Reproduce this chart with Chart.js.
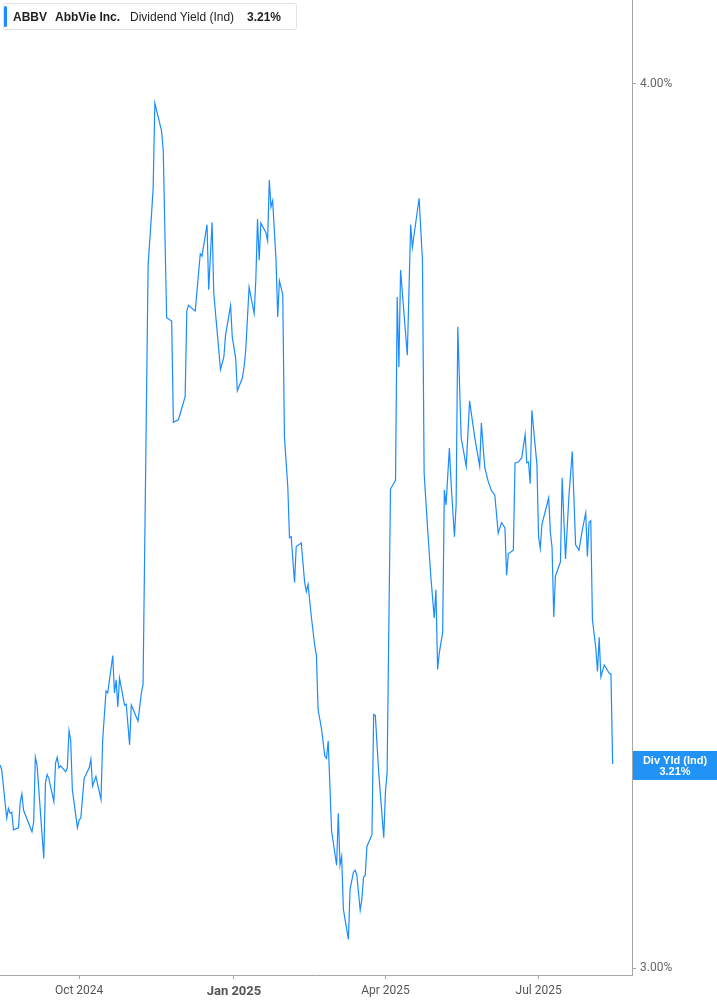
<!DOCTYPE html>
<html>
<head>
<meta charset="utf-8">
<title>ABBV Dividend Yield</title>
<script src="https://cdn.jsdelivr.net/npm/chart.js@4.4.1/dist/chart.umd.min.js"></script>
<style>
  html, body { margin: 0; padding: 0; background: #fff; }
  #wrap { position: relative; width: 717px; height: 1005px; }
  #legend {
    position: absolute; left: 3px; top: 3px; width: 292px; height: 25px;
    border: 1px solid #e2e2e2; border-radius: 3px; background: #fff;
    font-family: "Liberation Sans", Arial, sans-serif; font-size: 12px; color: #1f1f1f;
  }
  #legend .bar { position: absolute; left: 0; top: 2px; bottom: 2px; width: 3px; background: #1a8cff; border-radius: 2px; }
  #legend span { position: absolute; top: 6px; white-space: nowrap; }
  #legend .b { font-weight: bold; }
</style>
</head>
<body>
<div id="wrap">
  <canvas id="chart" width="717" height="1005"></canvas>
  <div id="legend">
    <div class="bar"></div>
    <span class="b" style="left:9px">ABBV</span>
    <span class="b" style="left:51px">AbbVie Inc.</span>
    <span style="left:126px">Dividend Yield (Ind)</span>
    <span class="b" style="left:243px">3.21%</span>
  </div>
</div>
<script>
// daily dividend yield (%)
const dates = [
  "2024-08-15","2024-08-16","2024-08-19","2024-08-20","2024-08-21","2024-08-22","2024-08-23","2024-08-26","2024-08-27","2024-08-28","2024-08-29",
  "2024-09-03","2024-09-04","2024-09-05","2024-09-06","2024-09-10","2024-09-11","2024-09-12","2024-09-13","2024-09-16","2024-09-17","2024-09-18",
  "2024-09-19","2024-09-20","2024-09-23","2024-09-24","2024-09-25","2024-09-26","2024-09-27","2024-09-30",
  "2024-10-01","2024-10-02","2024-10-04","2024-10-07","2024-10-08","2024-10-09","2024-10-11","2024-10-14","2024-10-15","2024-10-17","2024-10-18",
  "2024-10-21","2024-10-22","2024-10-23","2024-10-24","2024-10-25","2024-10-28","2024-10-29","2024-10-31",
  "2024-11-01","2024-11-05","2024-11-07","2024-11-08","2024-11-11","2024-11-13","2024-11-14","2024-11-15","2024-11-19","2024-11-20","2024-11-22",
  "2024-11-25","2024-11-26","2024-11-29",
  "2024-12-03","2024-12-04","2024-12-05","2024-12-09","2024-12-12","2024-12-13","2024-12-16","2024-12-17","2024-12-19","2024-12-20","2024-12-24",
  "2024-12-26","2024-12-27","2024-12-30","2024-12-31",
  "2025-01-02","2025-01-03","2025-01-06","2025-01-07","2025-01-08","2025-01-10","2025-01-13","2025-01-14","2025-01-15","2025-01-16","2025-01-17",
  "2025-01-20","2025-01-21","2025-01-22","2025-01-23","2025-01-24","2025-01-26","2025-01-27","2025-01-28","2025-01-30","2025-01-31",
  "2025-02-02","2025-02-03","2025-02-04","2025-02-06","2025-02-07","2025-02-10","2025-02-12","2025-02-13","2025-02-14","2025-02-16","2025-02-18",
  "2025-02-19","2025-02-20","2025-02-22","2025-02-24","2025-02-25","2025-02-26","2025-02-28",
  "2025-03-03","2025-03-04","2025-03-05","2025-03-06","2025-03-07","2025-03-10","2025-03-11","2025-03-13","2025-03-14","2025-03-15","2025-03-17",
  "2025-03-18","2025-03-19","2025-03-20","2025-03-21","2025-03-24","2025-03-25","2025-03-26","2025-03-28","2025-03-31",
  "2025-04-01","2025-04-02","2025-04-04","2025-04-07","2025-04-08","2025-04-09","2025-04-10","2025-04-14","2025-04-16","2025-04-17","2025-04-21",
  "2025-04-23","2025-04-24","2025-04-26","2025-04-28","2025-04-30",
  "2025-05-01","2025-05-02","2025-05-03","2025-05-05","2025-05-06","2025-05-07","2025-05-09","2025-05-10","2025-05-12","2025-05-13","2025-05-14",
  "2025-05-16","2025-05-19","2025-05-21","2025-05-24","2025-05-27","2025-05-28","2025-05-30",
  "2025-06-01","2025-06-03","2025-06-05","2025-06-07","2025-06-09","2025-06-11","2025-06-12","2025-06-13","2025-06-16","2025-06-17","2025-06-19",
  "2025-06-21","2025-06-23","2025-06-24","2025-06-25","2025-06-26","2025-06-27","2025-06-30",
  "2025-07-01","2025-07-02","2025-07-03","2025-07-07","2025-07-08","2025-07-09","2025-07-10","2025-07-11","2025-07-14","2025-07-15","2025-07-17",
  "2025-07-19","2025-07-21","2025-07-23","2025-07-25","2025-07-27","2025-07-29","2025-07-30","2025-07-31",
  "2025-08-01","2025-08-02","2025-08-04","2025-08-05","2025-08-06","2025-08-07","2025-08-09","2025-08-12","2025-08-13","2025-08-14"
];
const yields = [
  3.205,3.200,3.150,3.160,3.155,3.156,3.138,3.140,3.166,3.175,3.158,
  3.136,3.146,3.213,3.205,3.109,3.186,3.195,3.191,3.167,3.207,3.213,
  3.202,3.204,3.198,3.202,3.241,3.231,3.179,3.140,
  3.148,3.150,3.191,3.202,3.211,3.183,3.193,3.169,3.231,3.283,3.281,
  3.321,3.281,3.295,3.266,3.297,3.268,3.269,3.226,
  3.268,3.251,3.281,3.290,3.771,3.833,3.867,3.975,3.939,3.914,3.707,
  3.703,3.583,3.586,
  3.613,3.715,3.722,3.715,3.785,3.782,3.821,3.741,3.824,3.737,3.645,
  3.660,3.686,3.722,3.684,
  3.659,3.620,3.635,3.648,3.668,3.744,3.712,3.753,3.828,3.777,3.823,
  3.811,3.801,3.877,3.843,3.851,3.777,3.708,3.752,3.735,3.566,
  3.508,3.451,3.452,3.401,3.441,3.445,3.401,3.391,3.399,3.363,3.332,
  3.321,3.263,3.243,3.214,3.212,3.230,3.137,
  3.102,3.155,3.102,3.111,3.058,3.028,3.078,3.095,3.097,3.092,3.057,
  3.068,3.090,3.092,3.121,3.133,3.258,3.257,3.197,3.130,
  3.177,3.197,3.506,3.516,3.732,3.648,3.765,3.662,3.821,3.793,3.854,
  3.777,3.524,3.463,3.407,3.362,
  3.393,3.306,3.324,3.346,3.505,3.488,3.553,3.513,3.452,3.488,3.696,
  3.565,3.532,3.608,3.566,3.532,3.582,3.531,
  3.515,3.504,3.499,3.456,3.468,3.462,3.409,3.433,3.437,3.536,3.537,
  3.542,3.569,3.536,3.537,3.512,3.597,3.534,
  3.452,3.439,3.466,3.496,3.457,3.440,3.363,3.408,3.424,3.519,3.427,
  3.497,3.549,3.443,3.437,3.460,3.479,3.430,3.468,
  3.470,3.360,3.329,3.304,3.341,3.298,3.311,3.302,3.301,3.206
];
const quarterTicks = ["2024-10-01", "2025-01-01", "2025-04-01", "2025-07-01"];
const quarterLabels = ["Oct 2024", "Jan 2025", "Apr 2025", "Jul 2025"];
const yTicks = [3.0, 4.0];

const DAY = 86400000;
const ts = d => Date.parse(d + "T00:00:00Z");
const xMin = ts("2024-08-15");
const xMax = xMin + 375.5 * DAY;
const janTs = ts("2025-01-01");
const lastYield = yields[yields.length - 1];

const lastTag = {
  id: "lastTag",
  afterDraw(chart) {
    const { ctx, chartArea } = chart;
    const y = chart.scales.y.getPixelForValue(lastYield);
    const left = chartArea.right + 1;
    const cx = (left + chart.width) / 2;
    ctx.save();
    ctx.fillStyle = "#2192f6";
    ctx.fillRect(left, y - 13, chart.width - left, 29);
    ctx.fillStyle = "#fff";
    ctx.font = 'bold 11px "Liberation Sans", Arial, sans-serif';
    ctx.textAlign = "center";
    ctx.textBaseline = "middle";
    ctx.fillText("Div Yld (Ind)", cx, y - 3);
    ctx.fillText(lastYield.toFixed(2) + "%", cx, y + 8);
    ctx.restore();
  }
};

new Chart(document.getElementById("chart"), {
  type: "line",
  data: {
    datasets: [{
      data: dates.map((d, i) => ({ x: ts(d), y: yields[i] })),
      borderColor: "#1a8cff",
      borderWidth: 1.2,
      pointRadius: 0,
      tension: 0,
      fill: false
    }]
  },
  options: {
    responsive: false,
    devicePixelRatio: 1,
    animation: false,
    layout: { padding: 0 },
    plugins: { legend: { display: false }, tooltip: { enabled: false } },
    scales: {
      x: {
        type: "linear",
        min: xMin,
        max: xMax,
        afterBuildTicks: s => { s.ticks = quarterTicks.map(q => ({ value: ts(q) })); },
        afterFit: s => { s.height = 30; s.paddingLeft = 0; s.paddingRight = 0; },
        border: { color: "#a6a6a6" },
        grid: { drawOnChartArea: false, tickLength: 4, color: "#a6a6a6" },
        ticks: {
          maxRotation: 0,
          padding: 5,
          color: "#555",
          font: ctx => (ctx.tick && ctx.tick.value === janTs)
            ? { family: "Roboto", size: 13, weight: "bold" }
            : { family: "Roboto", size: 12 },
          callback: v => quarterLabels[quarterTicks.findIndex(q => ts(q) === v)]
        }
      },
      y: {
        type: "logarithmic",
        position: "right",
        min: 2.9932,
        max: 4.1108,
        afterBuildTicks: s => { s.ticks = yTicks.map(v => ({ value: v })); },
        afterFit: s => { s.width = 85; s.paddingTop = 0; s.paddingBottom = 0; },
        border: { color: "#a6a6a6" },
        grid: { drawOnChartArea: false, tickLength: 4, color: "#a6a6a6" },
        ticks: {
          padding: 4,
          color: "#666",
          font: { family: "Roboto", size: 12 },
          callback: v => v.toFixed(2) + "%"
        }
      }
    }
  },
  plugins: [lastTag]
});
</script>
</body>
</html>
